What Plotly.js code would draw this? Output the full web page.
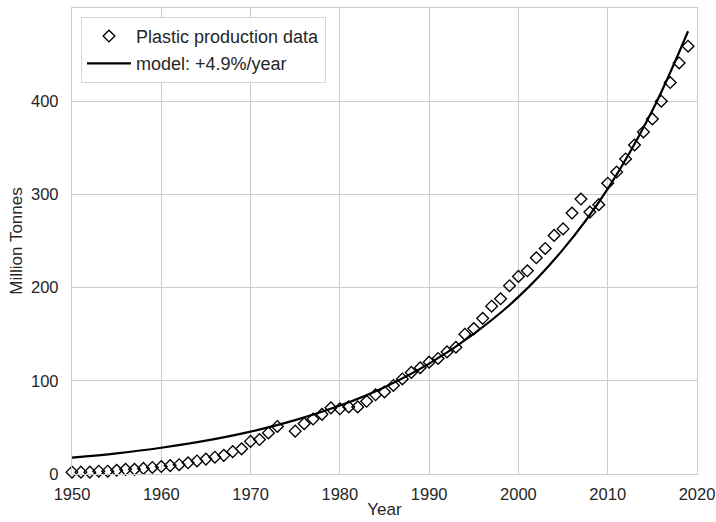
<!DOCTYPE html>
<html>
<head>
<meta charset="utf-8">
<script src="https://cdn.plot.ly/plotly-3.0.1.min.js"></script>
<style>html,body{margin:0;padding:0;background:#fff;}#chart{width:716px;height:522px;}</style>
</head>
<body>
<div id="chart"></div>
<script>
// Observed plastic production (million tonnes); 1974 absent in the source
const years = [1950,1951,1952,1953,1954,1955,1956,1957,1958,1959,
  1960,1961,1962,1963,1964,1965,1966,1967,1968,1969,
  1970,1971,1972,1973,1975,1976,1977,1978,1979,
  1980,1981,1982,1983,1984,1985,1986,1987,1988,1989,
  1990,1991,1992,1993,1994,1995,1996,1997,1998,1999,
  2000,2001,2002,2003,2004,2005,2006,2007,2008,2009,
  2010,2011,2012,2013,2014,2015,2016,2017,2018,2019];
const production = [2,2,2,3,3,4,5,5,6,7,
  8,9,10,12,14,16,18,20,24,27,
  35,37,44,51,46,54,59,64,71,
  70,72,72,78,85,88,95,102,109,114,
  120,124,131,136,150,156,167,180,188,202,
  212,218,232,242,256,263,280,295,281,289,
  312,324,338,353,367,381,400,420,441,459];

// Model curve (+4.9%/year) values
const modelYears = [1950,1955,1960,1965,1970,1975,1980,1985,1990,1995,2000,2005,2010,2015,2019];
const modelValues = [17.5,22.2,28.2,35.8,45.5,57.8,73.4,93.2,118.4,150.4,190,241,306,390,475];

const xTicks = [1950,1960,1970,1980,1990,2000,2010,2020];
const yTicks = [0,100,200,300,400,500];

const txt = '#262626';
const gridC = '#cccccc';
const fontFam = '"Liberation Sans", Arial, sans-serif';

const traces = [
  {
    x: years, y: production, type: 'scatter', mode: 'markers',
    name: 'Plastic production data', legendgroup: 'a',
    marker: {symbol: 'diamond-open', size: 9, color: '#000', line: {width: 1.35, color: '#000'}},
    cliponaxis: false
  },
  {
    x: modelYears, y: modelValues, type: 'scatter', mode: 'lines',
    name: 'model: +4.9%/year', legendgroup: 'b',
    line: {color: '#000', width: 2.2, shape: 'spline', smoothing: 1}
  }
];

const layout = {
  width: 716, height: 522,
  margin: {l: 72, r: 19, t: 8, b: 48},
  paper_bgcolor: '#fff', plot_bgcolor: '#fff',
  font: {family: fontFam, size: 16.5, color: txt},
  showlegend: true,
  legend: {
    x: 0.0144, y: 0.981, xanchor: 'left', yanchor: 'top',
    bgcolor: 'rgba(255,255,255,0.9)', bordercolor: '#d6d6d6', borderwidth: 1,
    font: {size: 18, color: txt}, tracegroupgap: 1, itemwidth: 44
  },
  xaxis: {
    range: [1950, 2020], tickvals: xTicks, ticktext: xTicks.map(String),
    showgrid: true, gridcolor: gridC, gridwidth: 1,
    showline: true, linecolor: gridC, linewidth: 1.2, mirror: true,
    zeroline: false, ticks: '', ticklen: 0, ticklabelstandoff: 5,
    tickfont: {size: 16.5, color: txt},
    title: {text: 'Year', font: {size: 17, color: txt}, standoff: 1}
  },
  yaxis: {
    range: [0, 500], tickvals: yTicks, ticktext: yTicks.map(String),
    showgrid: true, gridcolor: gridC, gridwidth: 1,
    showline: true, linecolor: gridC, linewidth: 1.2, mirror: true,
    zeroline: false, ticks: '', ticklen: 0, ticklabelstandoff: 9,
    tickfont: {size: 16.5, color: txt},
    title: {text: 'Million Tonnes', font: {size: 17, color: txt}, standoff: 4}
  }
};

Plotly.newPlot('chart', traces, layout, {displayModeBar: false, staticPlot: true});
</script>
</body>
</html>
